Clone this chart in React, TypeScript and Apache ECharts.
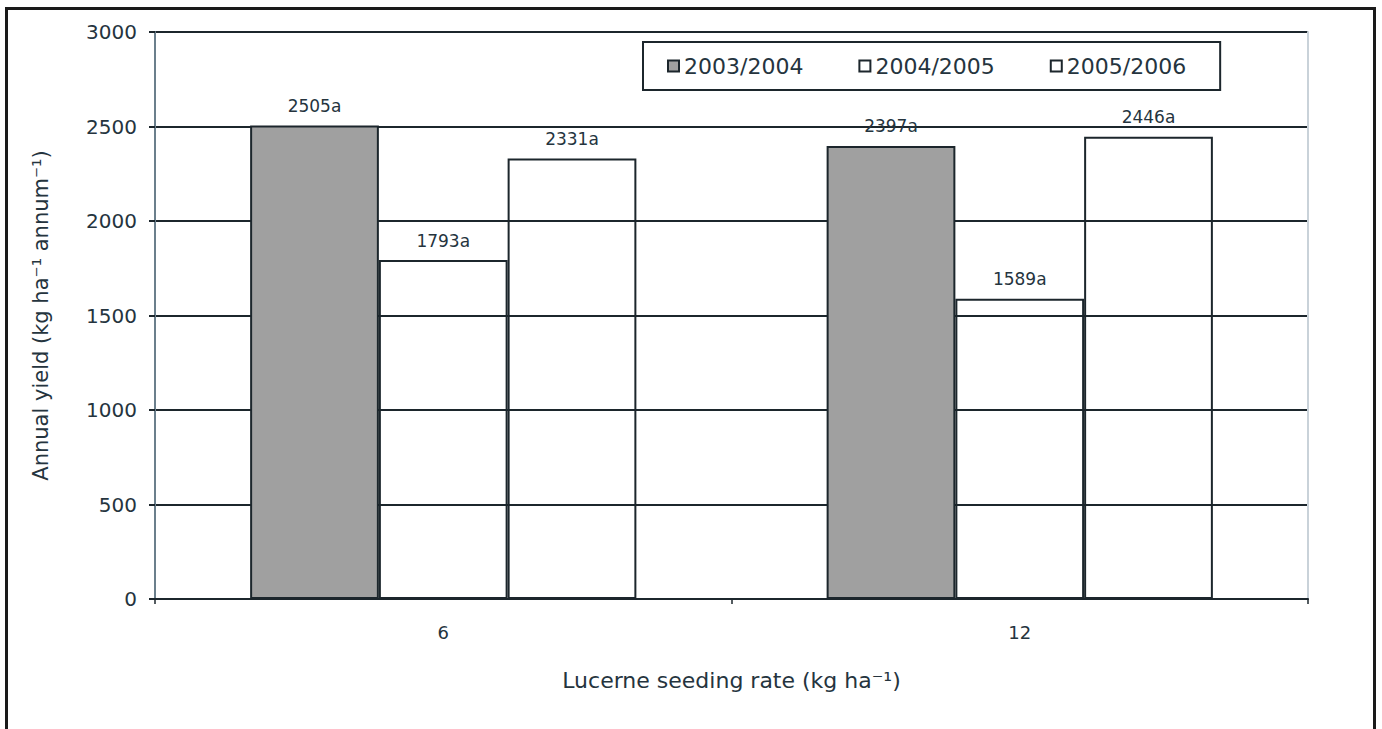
import React, { useEffect, useRef } from "react";
import * as echarts from "echarts";

const categories = ["6", "12"];
const seriesNames = ["2003/2004", "2004/2005", "2005/2006"];
const s2003 = [2505, 2397];
const s2004 = [1793, 1589];
const s2005 = [2331, 2446];
const yTicks = [0, 500, 1000, 1500, 2000, 2500, 3000];

const FONT = "DejaVu Sans";
const TEXT = "#25343e";
const LINE = "#1c262c";

export default function App() {
  const ref = useRef<HTMLDivElement>(null);
  useEffect(() => {
    if (!ref.current) return;
    const chart = echarts.init(ref.current, undefined, { renderer: "svg" });
    const label = {
      show: true,
      position: "top",
      distance: 11,
      fontFamily: FONT,
      fontSize: 17,
      color: TEXT,
      formatter: (p: any) => `${p.value}a`,
    };
    const mk = (name: string, data: number[], fill: string) => ({
      name,
      type: "bar",
      data,
      barGap: "0%",
      barCategoryGap: "33%",
      itemStyle: { color: fill, borderColor: LINE, borderWidth: 2 },
      label,
    });
    chart.setOption({
      animation: false,
      backgroundColor: "#ffffff",
      grid: { left: 155, right: 74, top: 32, bottom: 130, containLabel: false },
      legend: {
        left: 643,
        top: 42,
        padding: [13, 34, 13, 24],
        borderColor: LINE,
        borderWidth: 2,
        itemWidth: 11,
        itemHeight: 11,
        itemGap: 55,
        icon: "rect",
        textStyle: { fontFamily: FONT, fontSize: 22, color: TEXT },
        data: seriesNames,
      },
      xAxis: {
        type: "category",
        data: categories,
        axisLine: { lineStyle: { color: LINE, width: 2 } },
        axisTick: { show: true, alignWithLabel: false, length: 5, lineStyle: { color: LINE, width: 1.5 } },
        axisLabel: { fontFamily: FONT, fontSize: 18, color: TEXT, margin: 24 },
        name: "Lucerne seeding rate (kg ha⁻¹)",
        nameLocation: "middle",
        nameGap: 70,
        nameTextStyle: { fontFamily: FONT, fontSize: 22, color: TEXT },
      },
      yAxis: [
        {
          type: "value",
          min: yTicks[0],
          max: yTicks[yTicks.length - 1],
          interval: 500,
          axisLine: { show: true, lineStyle: { color: "#6b7f8c", width: 2 } },
          axisTick: { show: true, length: 6, lineStyle: { color: LINE, width: 2 } },
          axisLabel: {
            fontFamily: FONT,
            fontSize: 20,
            color: TEXT,
            margin: 18,
            formatter: (v: number) => String(v),
          },
          splitLine: { show: true, lineStyle: { color: LINE, width: 2 } },
          name: "Annual yield (kg ha⁻¹ annum⁻¹)",
          nameLocation: "middle",
          nameGap: 104,
          nameRotate: 90,
          nameTextStyle: { fontFamily: FONT, fontSize: 21, color: TEXT },
        },
        {
          type: "value",
          position: "right",
          min: 0,
          max: 3000,
          interval: 500,
          axisLine: { show: true, lineStyle: { color: "#c9d2d9", width: 2 } },
          axisTick: { show: false },
          axisLabel: { show: false },
          splitLine: { show: false },
        },
      ],
      graphic: [
        {
          type: "rect",
          shape: { x: 6.5, y: 8.5, width: 1368, height: 740 },
          style: { fill: "none", stroke: "#1a1a1a", lineWidth: 3 },
          silent: true,
        },
      ],
      series: [
        mk(seriesNames[0], s2003, "#a0a0a0"),
        mk(seriesNames[1], s2004, "rgba(255,255,255,0)"),
        mk(seriesNames[2], s2005, "rgba(255,255,255,0)"),
      ],
    });
    return () => chart.dispose();
  }, []);
  return (
    <div
      ref={ref}
      style={{ position: "absolute", left: 0, top: 0, width: 1382, height: 729, background: "#fff" }}
    />
  );
}
